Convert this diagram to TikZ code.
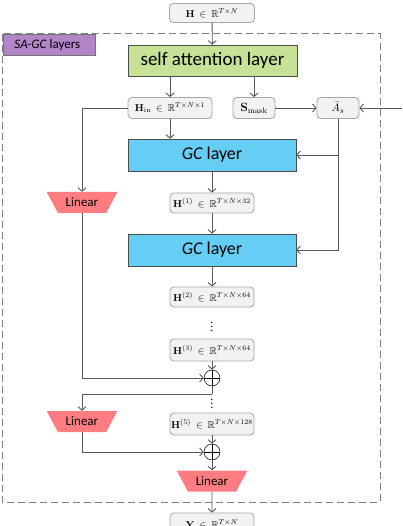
\documentclass[tikz,border=0pt]{standalone}
\usepackage{amsmath,amssymb}
\usepackage[no-math]{fontspec}
\setmainfont{Carlito}
\usetikzlibrary{shapes.geometric,arrows.meta,calc}
\definecolor{lc}{RGB}{89,89,89}
\definecolor{boxfill}{RGB}{242,242,242}
\definecolor{boxdraw}{RGB}{166,166,166}
\definecolor{greenf}{RGB}{197,226,150}
\definecolor{bluef}{RGB}{102,206,245}
\definecolor{redf}{RGB}{255,124,128}
\definecolor{purplef}{RGB}{178,132,200}
\tikzset{
  conn/.style={draw=lc, line width=0.9pt, -{Straight Barb[length=3.5pt,width=8pt]}},
  plain/.style={draw=lc, line width=0.9pt},
  mbox/.style={draw=boxdraw, fill=boxfill, rounded corners=4pt, line width=0.8pt,
     minimum height=21pt, inner sep=1pt, font=\fontsize{10}{11}\selectfont},
  layerbox/.style={draw=black!70, line width=0.5pt, minimum width=168pt, minimum height=32pt,
     font=\fontsize{18}{20}\selectfont, inner sep=0pt},
  linbox/.style={trapezium, shape border rotate=180, trapezium angle=50, trapezium stretches=true,
     minimum width=71pt, minimum height=21pt, fill=redf, inner sep=0pt, font=\fontsize{13}{15}\selectfont},
  addop/.style={circle, draw=black, line width=0.5pt, minimum size=16pt, inner sep=0pt,
     path picture={\draw[black, line width=0.5pt] (path picture bounding box.north) -- (path picture bounding box.south)
        (path picture bounding box.west) -- (path picture bounding box.east);}},
  vdots/.style={font=\fontsize{12}{12}\selectfont, inner sep=0pt}
}
\begin{document}
\begin{tikzpicture}[x=1pt,y=-1pt]
\useasboundingbox (0,0) rectangle (402,526);
% dashed frame
\draw[dashed, draw=black!50, line width=1pt, dash pattern=on 7pt off 4pt] (2,34) rectangle (380,502);
\node[draw=black!55, fill=purplef, line width=0.6pt, minimum width=92pt, minimum height=21pt, anchor=north west,
      inner sep=0pt, font=\fontsize{13}{15}\selectfont] (lab) at (3,34) {\hspace*{-4pt}\textit{SA-GC} layers};

\node[mbox, minimum width=85pt, minimum height=19pt] (H) at (212,13) {$\mathbf{H}\ \in\ \mathbb{R}^{T\times N}$};
\node[layerbox, fill=greenf, minimum width=169pt, minimum height=31pt, font=\fontsize{19}{21}\selectfont] (sa) at (212.5,60.5) {self attention layer};
\node[mbox, minimum width=84pt] (Hin) at (170,108) {$\mathbf{H}_{\mathrm{in}}\ \in\ \mathbb{R}^{T\times N\times 1}$};
\node[mbox, minimum width=42pt] (Sm) at (254,108) {\fontsize{12}{13}\selectfont$\mathbf{S}_{\mathrm{mask}}$};
\node[mbox, minimum width=42pt] (As) at (338,108) {\fontsize{11}{12}\selectfont$\bar{A}_s$};
\coordinate (ext) at (402,108);

\node[layerbox, fill=bluef] (gc1) at (212,155) {{\itshape GC} layer};
\node[mbox, minimum width=84pt, minimum height=20pt] (H1) at (212,203) {$\mathbf{H}^{(1)}\ \in\ \mathbb{R}^{T\times N\times 32}$};
\node[layerbox, fill=bluef] (gc2) at (212,250) {{\itshape GC} layer};
\node[mbox, minimum width=84pt, minimum height=20pt] (H2) at (212,297) {$\mathbf{H}^{(2)}\ \in\ \mathbb{R}^{T\times N\times 64}$};
\node[vdots] (d1) at (212,324) {$\vdots$};
\node[mbox, minimum width=84pt, minimum height=22pt] (H3) at (212,350) {$\mathbf{H}^{(3)}\ \in\ \mathbb{R}^{T\times N\times 64}$};
\node[addop] (c1) at (212,378) {};
\coordinate (j1) at (212,394);
\node[vdots] (d2) at (212,401) {$\vdots$};
\node[mbox, minimum width=84pt, minimum height=22pt] (H5) at (212,424) {$\mathbf{H}^{(5)}\ \in\ \mathbb{R}^{T\times N\times 128}$};
\node[addop] (c2) at (212,452) {};
\node[linbox] (L3) at (212,481) {Linear};
\node[mbox, minimum width=84pt, minimum height=22pt] (Y) at (212,524) {$\mathbf{Y}\ \in\ \mathbb{R}^{T\times N}$};

\node[linbox] (L1) at (82,202.5) {Linear};
\node[linbox] (L2) at (82,421.5) {Linear};

% connectors
\draw[conn] (H) -- (sa);
\draw[conn] (sa.south -| Hin) -- (Hin);
\draw[conn] (sa.south -| Sm) -- (Sm);
\draw[conn] (Hin) -- (Hin |- gc1.north);
\draw[conn] (Sm) -- (As);
\draw[conn] (ext) -- (As);
\draw[conn] (As.south) |- (gc1.east);
\draw[conn] (As.south) |- (gc2.east);
\draw[conn] (gc1) -- (H1);
\draw[conn] (H1) -- (gc2);
\draw[conn] (gc2) -- (H2);
\draw[conn] (H3) -- (c1);
\draw[conn] (Hin.west) -| (L1.north);
\draw[conn] (L1.south) |- (c1.west);
\draw[plain] (c1.south) -- (j1);
\draw[conn] (j1) -| (L2.north);
\draw[conn] (L2.south) |- (c2.west);
\draw[conn] (H5) -- (c2);
\draw[conn] (c2) -- (L3);
\draw[conn] (L3) -- (Y);
\end{tikzpicture}
\end{document}
